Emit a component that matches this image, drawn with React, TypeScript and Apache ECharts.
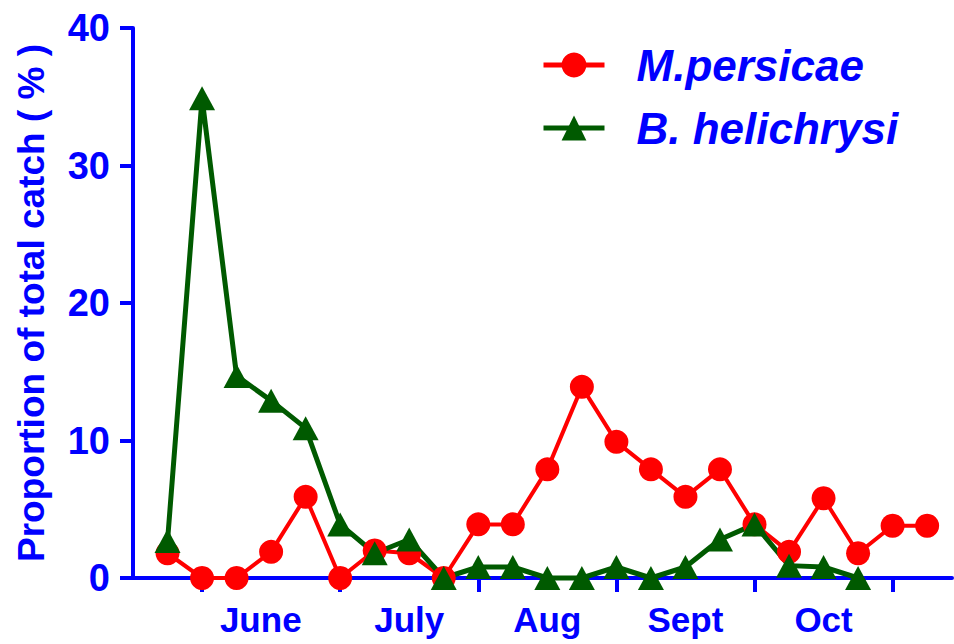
import React, { useEffect, useRef } from "react";
import * as echarts from "echarts";

// Sampling occasions (index along the season)
const mPersicae = [1.8, 0, 0, 1.9, 5.9, 0, 2, 1.8, 0, 3.9, 3.9, 7.9, 13.9, 9.9, 7.9, 5.9, 7.9, 3.9, 1.9, 5.8, 1.8, 3.8, 3.8];
const bHelichrysi = [2.7, 34.9, 14.7, 12.9, 10.9, 3.9, 1.8, 2.8, 0, 0.8, 0.8, 0, 0, 0.8, 0, 0.8, 2.8, 3.9, 0.9, 0.8, 0];
const monthLabels = ["June", "July", "Aug", "Sept", "Oct"];
const monthLabelAt = [2.7, 7, 11, 15, 19];
const monthTickAt = [1, 5, 9, 13, 17, 21];
const yTicks = { min: 0, max: 40, interval: 10 };
const seriesNames = ["M.persicae", "B. helichrysi"];

const BLUE = "#0000ff";
const RED = "#ff0000";
const GREEN = "#005a00";
const FONT = "'Liberation Sans', Arial, sans-serif";

export default function App() {
  const ref = useRef<HTMLDivElement>(null);
  useEffect(() => {
    if (!ref.current) return;
    const chart = echarts.init(ref.current, undefined, { renderer: "svg" });
    chart.setOption({
      animation: false,
      backgroundColor: "#ffffff",
      grid: { left: 133, right: 2, top: 28, bottom: 66, containLabel: false },
      legend: {
        orient: "vertical",
        left: 536,
        top: 37,
        itemWidth: 61,
        itemHeight: 31,
        itemGap: 17,
        data: seriesNames,
        lineStyle: { width: 5 },
        textStyle: {
          color: BLUE,
          fontFamily: FONT,
          fontSize: 44,
          fontWeight: "bold",
          fontStyle: "italic",
          lineHeight: 46,
          padding: [0, 0, 0, 27],
        },
      },
      xAxis: {
        type: "value",
        min: -1,
        max: 22.72,
        splitLine: { show: false },
        axisLine: { show: true, onZero: false, lineStyle: { color: BLUE, width: 4 } },
        axisTick: {
          show: true,
          customValues: monthTickAt,
          length: 14,
          lineStyle: { color: BLUE, width: 4 },
        },
        axisLabel: {
          customValues: monthLabelAt,
          formatter: (v: number) => {
            const k = monthLabelAt.findIndex((p) => Math.abs(p - v) < 0.01);
            return k >= 0 ? monthLabels[k] : "";
          },
          color: BLUE,
          fontFamily: FONT,
          fontSize: 35,
          fontWeight: "bold",
          margin: 24,
        },
      },
      yAxis: {
        type: "value",
        min: yTicks.min,
        max: yTicks.max,
        interval: yTicks.interval,
        name: "Proportion of total catch ( % )",
        nameLocation: "middle",
        nameGap: 83,
        nameTextStyle: { color: BLUE, fontFamily: FONT, fontSize: 37, fontWeight: "bold" },
        splitLine: { show: false },
        axisLine: { show: true, onZero: false, lineStyle: { color: BLUE, width: 4 } },
        axisTick: { show: true, length: 13, lineStyle: { color: BLUE, width: 4 } },
        axisLabel: {
          color: BLUE,
          fontFamily: FONT,
          fontSize: 38,
          fontWeight: "bold",
          margin: 23,
        },
      },
      series: [
        {
          name: seriesNames[0],
          type: "line",
          data: mPersicae.map((v, i) => [i, v]),
          symbol: "circle",
          symbolSize: 24,
          clip: false,
          lineStyle: { color: RED, width: 4 },
          itemStyle: { color: RED },
        },
        {
          name: seriesNames[1],
          type: "line",
          data: bHelichrysi.map((v, i) => [i, v]),
          symbol: "triangle",
          symbolSize: [26, 24],
          clip: false,
          lineStyle: { color: GREEN, width: 5 },
          itemStyle: { color: GREEN },
        },
      ],
    });
    return () => chart.dispose();
  }, []);
  return <div ref={ref} style={{ width: 954, height: 644, position: "absolute", left: 0, top: 0 }} />;
}
